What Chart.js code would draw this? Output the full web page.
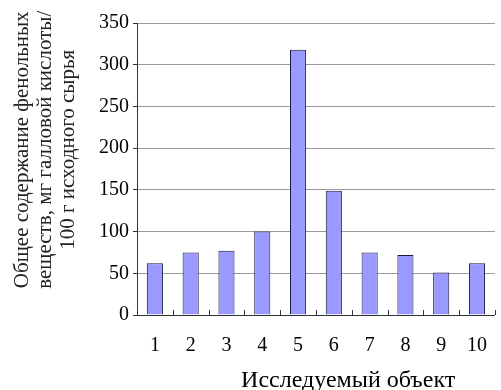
<!DOCTYPE html>
<html>
<head>
<meta charset="utf-8">
<script src="https://cdn.jsdelivr.net/npm/chart.js@4"></script>
<style>
  html, body { margin: 0; padding: 0; background: #fff; overflow: hidden; }
  #wrap { width: 506px; height: 390px; }
</style>
</head>
<body>
<div id="wrap"><canvas id="chart"></canvas></div>
<script>
// данные с графика
const categories = ["1", "2", "3", "4", "5", "6", "7", "8", "9", "10"];
const phenolValues = [62, 75, 77, 100, 318, 149, 75, 72, 51, 62];
const yTicks = [0, 50, 100, 150, 200, 250, 300, 350];
const yTitle = ["Общее содержание фенольных", "веществ, мг галловой кислоты/", "100 г исходного сырья"];
const xTitle = "Исследуемый объект";

const serif = "'Liberation Serif', 'DejaVu Serif', serif";

// штрихи между категориями внутрь области, подписи осей
const extras = {
  id: "extras",
  afterDatasetsDraw(chart) {
    const { ctx, scales: { x, y }, chartArea } = chart;
    ctx.save();
    ctx.strokeStyle = "#333";
    ctx.lineWidth = 1;
    for (let i = 0; i < categories.length; i++) {
      const px = Math.round(x.getPixelForValue(i + 0.5)) + 0.5;
      ctx.beginPath();
      ctx.moveTo(px, chartArea.bottom);
      ctx.lineTo(px, chartArea.bottom - 5);
      ctx.stroke();
    }
    ctx.fillStyle = "#000";
    ctx.font = "24px " + serif;
    ctx.textAlign = "center";
    ctx.textBaseline = "middle";
    ctx.fillText(xTitle, x.getPixelForValue(5.4), chartArea.bottom + 66);

    // подпись оси Y, три строки, повернута
    ctx.fillStyle = "#222";
    ctx.font = "21px " + serif;
    const cy = y.getPixelForValue(198);
    yTitle.forEach((line, i) => {
      ctx.save();
      ctx.translate(chartArea.left - 115 + i * 23, cy);
      ctx.rotate(-Math.PI / 2);
      ctx.fillText(line, 0, 0);
      ctx.restore();
    });
    ctx.restore();
  }
};

new Chart(document.getElementById("chart"), {
  type: "bar",
  data: {
    labels: categories,
    datasets: [{
      data: phenolValues,
      backgroundColor: "#9999ff",
      borderColor: "#1a1a40",
      borderWidth: 1,
      borderSkipped: "bottom",
      categoryPercentage: 1,
      barPercentage: 0.45
    }]
  },
  options: {
    responsive: true,
    maintainAspectRatio: false,
    animation: false,
    layout: { padding: { top: 23, left: 95, right: 0, bottom: 13 } },
    plugins: {
      legend: { display: false },
      tooltip: { enabled: false }
    },
    scales: {
      x: {
        grid: { display: false, drawTicks: false },
        border: { display: true, color: "#333", width: 1 },
        ticks: { color: "#000", font: { family: serif, size: 20 }, padding: 19, maxRotation: 0 }
      },
      y: {
        min: 0,
        max: 350,
        afterBuildTicks(axis) { axis.ticks = yTicks.map(v => ({ value: v })); },
        grid: { color: "#9a9a9a", lineWidth: 1, tickLength: 4, tickColor: "#333" },
        border: { display: true, color: "#333", width: 1 },
        ticks: { color: "#000", font: { family: serif, size: 20 }, padding: 4 }
      }
    }
  },
  plugins: [extras]
});
</script>
</body>
</html>
